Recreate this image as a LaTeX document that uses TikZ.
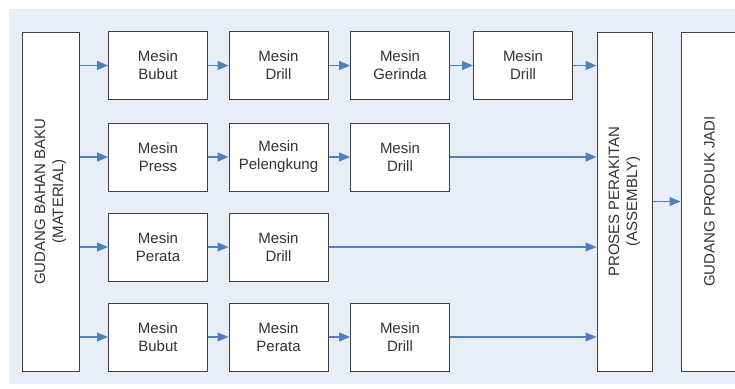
\documentclass[tikz,border=0pt]{standalone}
\usepackage{fontspec}
\setmainfont{Liberation Sans}
\usetikzlibrary{arrows.meta}
\definecolor{bgblue}{RGB}{232,238,247}
\definecolor{arrowblue}{RGB}{79,129,189}
\definecolor{boxline}{RGB}{64,64,64}
\begin{document}
\begin{tikzpicture}[x=1pt, y=-1pt,
  every node/.style={font=\fontsize{15}{18}\selectfont, text=black!80},
  mesin/.style={draw=boxline, fill=white, line width=1pt, minimum width=99pt, minimum height=68pt, inner sep=0pt, align=center},
  gudang/.style={draw=boxline, fill=white, line width=1pt, rotate=90, minimum width=339pt, inner sep=0pt, align=center},
  panah/.style={draw=arrowblue, line width=1.3pt, -{Triangle[length=11pt,width=9pt]}}]
\useasboundingbox (0,0) rectangle (735,388);
\fill[bgblue] (9,9) rectangle (735,384);

\node[gudang, minimum height=57pt] (GB) at (50.5, 201.5) {GUDANG BAHAN BAKU\\(MATERIAL)};
\node[gudang, minimum height=55pt] (PP) at (624.5, 201.5) {PROSES PERAKITAN\\(ASSEMBLY)};
\node[gudang, minimum height=57pt] (GP) at (709.5, 201.5) {GUDANG PRODUK JADI};

\node[mesin] (B11) at (158, 65.5) {Mesin\\Bubut};
\node[mesin] (B12) at (278.5, 65.5) {Mesin\\Drill};
\node[mesin] (B13) at (400, 65.5) {Mesin\\Gerinda};
\node[mesin] (B14) at (523, 65.5) {Mesin\\Drill};

\node[mesin] (B21) at (158, 157) {Mesin\\Press};
\node[mesin] (B22) at (278.5, 157) {Mesin\\Pelengkung};
\node[mesin] (B23) at (400, 157) {Mesin\\Drill};

\node[mesin] (B31) at (158, 247) {Mesin\\Perata};
\node[mesin] (B32) at (278.5, 247) {Mesin\\Drill};

\node[mesin] (B41) at (158, 337) {Mesin\\Bubut};
\node[mesin] (B42) at (278.5, 337) {Mesin\\Perata};
\node[mesin] (B43) at (400, 337) {Mesin\\Drill};

\draw[panah] (GB.south |- B11) -- (B11);
\draw[panah] (B11) -- (B12);
\draw[panah] (B12) -- (B13);
\draw[panah] (B13) -- (B14);
\draw[panah] (B14) -- (PP.north |- B14);

\draw[panah] (GB.south |- B21) -- (B21);
\draw[panah] (B21) -- (B22);
\draw[panah] (B22) -- (B23);
\draw[panah] (B23) -- (PP.north |- B23);

\draw[panah] (GB.south |- B31) -- (B31);
\draw[panah] (B31) -- (B32);
\draw[panah] (B32) -- (PP.north |- B32);

\draw[panah] (GB.south |- B41) -- (B41);
\draw[panah] (B41) -- (B42);
\draw[panah] (B42) -- (B43);
\draw[panah] (B43) -- (PP.north |- B43);

\draw[panah] (PP) -- (GP);
\end{tikzpicture}
\end{document}
